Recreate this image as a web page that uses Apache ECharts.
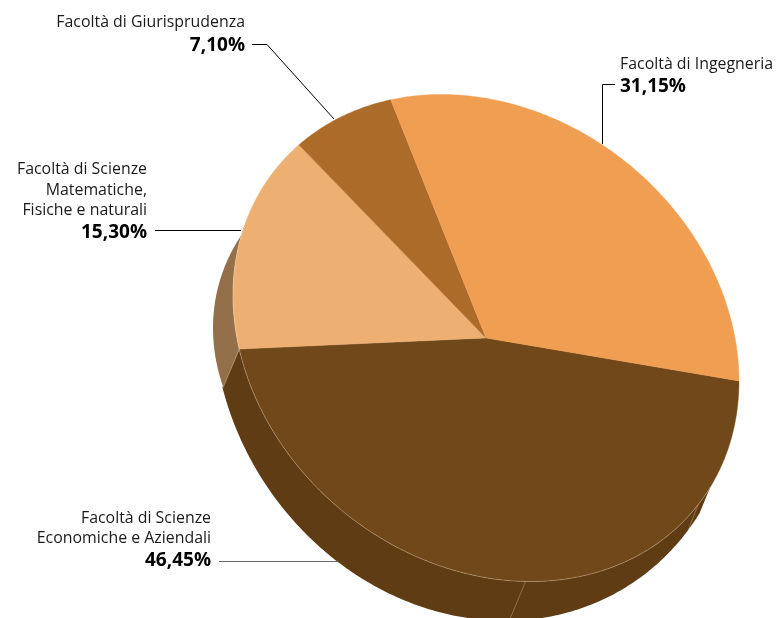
<!DOCTYPE html>
<html>
<head>
<meta charset="utf-8">
<style>html,body{margin:0;padding:0;background:#fff}#chart{width:776px;height:618px}</style>
<script src="https://cdn.jsdelivr.net/npm/echarts@6/dist/echarts.min.js"></script>
</head>
<body>
<div id="chart"></div>
<script>
// Enrolment share per faculty, clockwise from the right-hand edge of the disc.
var faculties = ['Facoltà di Scienze\nEconomiche e Aziendali', 'Facoltà di Scienze\nMatematiche,\nFisiche e naturali', 'Facoltà di Giurisprudenza', 'Facoltà di Ingegneria'];
var shareLabels = ['46,45%', '15,30%', '7,10%', '31,15%'];
var shares = [46.45, 15.30, 7.10, 31.15];
var faceColors = ['#714819', '#EEAF73', '#AC6B29', '#F09E52'];

// Oblique projection of a unit circle into axis units: [cx, cy, rx, shear, ry].
var faceEllipse = [486, 338, 253, 43, 239.7];
var lowerEllipse = [475, 345, 262, 31.6, 274];
var lowerEllipseLeft = [448, 348, 235, 20, 200];

// Side panels: projected edge, edge range, rim range, fill.
var wallPanels = [
  { edge: lowerEllipse, from: 31, to: 164.6, rimFrom: 167.2, rimTo: 27.5, color: '#5F3C13' },
  { edge: lowerEllipseLeft, from: 163, to: 212, rimFrom: 197, rimTo: 167.2, color: '#94704A' }
];
// Thin highlights where the side panels meet: rim angle, lower-edge angle.
var wallSeams = [[33, 35.6], [81, 82.5], [167.2, 164.3]];
var rimHighlight = [27.5, 197];

// Call-out text blocks and their leader lines, in axis units.
var callouts = [
  { idx: 0, x: 211, align: 'right', base: [523, 543], valueBase: 566, leader: [[219, 561.5], [337, 561.5]], color: '#666666' },
  { idx: 1, x: 147, align: 'right', base: [174, 195, 215], valueBase: 238, leader: [[155, 230.5], [241, 230.5]], color: '#000000' },
  { idx: 2, x: 245, align: 'right', base: [27], valueBase: 51, leader: [[252, 44.5], [267, 44.5], [334, 119]], color: '#000000' },
  { idx: 3, x: 620, align: 'left', base: [69], valueBase: 92, leader: [[615, 84.5], [602.5, 84.5], [602.5, 144]], color: '#000000' }
];

var FONT = '"Open Sans", "Noto Sans", sans-serif';
var NAME_SIZE = 15.9, VALUE_SIZE = 19;

function ellipsePoint(e, deg) {
  var r = deg * Math.PI / 180, c = Math.cos(r), s = Math.sin(r);
  return [e[0] + e[2] * c, e[1] + e[3] * c + e[4] * s];
}
function arc(e, from, to, api) {
  var n = Math.max(2, Math.ceil(Math.abs(to - from) * 1.5)), pts = [];
  for (var i = 0; i <= n; i++) pts.push(api.coord(ellipsePoint(e, from + (to - from) * i / n)));
  return pts;
}

var total = shares.reduce(function (a, b) { return a + b; }, 0);

function renderFace(params, api) {
  var start = 0;
  for (var i = 0; i < params.dataIndex; i++) start += shares[i] / total * 360;
  var sweep = api.value(0) / total * 360;
  var pts = arc(faceEllipse, start, start + sweep, api);
  pts.push(api.coord([faceEllipse[0], faceEllipse[1]]));
  var col = faceColors[params.dataIndex];
  return { type: 'polygon', shape: { points: pts }, style: { fill: col, stroke: col, lineWidth: 0.4 } };
}
function renderWall(params, api) {
  var p = wallPanels[params.dataIndex];
  var pts = arc(p.edge, p.from, p.to, api).concat(arc(faceEllipse, p.rimFrom, p.rimTo, api));
  return { type: 'polygon', shape: { points: pts }, style: { fill: p.color } };
}
function renderSeam(params, api) {
  var s = wallSeams[params.dataIndex];
  return {
    type: 'polyline',
    shape: { points: [api.coord(ellipsePoint(faceEllipse, s[0])), api.coord(ellipsePoint(lowerEllipse, s[1]))] },
    style: { fill: null, stroke: 'rgba(255,235,210,0.38)', lineWidth: 0.8 }
  };
}
function renderRim(params, api) {
  return {
    type: 'polyline',
    shape: { points: arc(faceEllipse, rimHighlight[0], rimHighlight[1], api) },
    style: { fill: null, stroke: 'rgba(255,235,210,0.42)', lineWidth: 0.7 }
  };
}
function renderCallout(params, api) {
  var c = callouts[params.dataIndex], kids = [];
  var lines = faculties[c.idx].split('\n');
  lines.forEach(function (t, k) {
    var p = api.coord([c.x, c.base[k]]);
    // Middle-anchored text: the baseline sits a little under a quarter of the size below the anchor.
    kids.push({ type: 'text', style: { text: t, x: p[0], y: p[1] - NAME_SIZE * 0.27, align: c.align, verticalAlign: 'middle', fill: '#1a1a1a', font: NAME_SIZE + 'px ' + FONT } });
  });
  var v = api.coord([c.x, c.valueBase]);
  kids.push({ type: 'text', style: { text: shareLabels[c.idx], x: v[0], y: v[1] - VALUE_SIZE * 0.29, align: c.align, verticalAlign: 'middle', fill: '#000', font: 'bold ' + VALUE_SIZE + 'px ' + FONT } });
  kids.push({ type: 'polyline', shape: { points: c.leader.map(function (q) { return api.coord(q); }) }, style: { fill: null, stroke: c.color, lineWidth: 1 } });
  return { type: 'group', children: kids };
}

var chart = echarts.init(document.getElementById('chart'), null, { renderer: 'canvas' });
function layer(renderItem, rows, z) {
  return { type: 'custom', coordinateSystem: 'cartesian2d', renderItem: renderItem, data: rows, z: z, clip: false, silent: true, animation: false };
}
function rowsOf(list) { return list.map(function (v, i) { return [typeof v === 'number' ? v : i]; }); }

chart.setOption({
  backgroundColor: '#ffffff',
  animation: false,
  grid: { left: 0, right: 0, top: 0, bottom: 0 },
  xAxis: { type: 'value', min: 0, max: 776, show: false },
  yAxis: { type: 'value', min: 0, max: 618, inverse: true, show: false },
  series: [
    layer(renderCallout, rowsOf(callouts), 1),
    layer(renderWall, rowsOf(wallPanels), 2),
    layer(renderFace, rowsOf(shares), 3),
    layer(renderSeam, rowsOf(wallSeams), 4),
    layer(renderRim, [[0]], 4)
  ]
});
</script>
</body>
</html>
